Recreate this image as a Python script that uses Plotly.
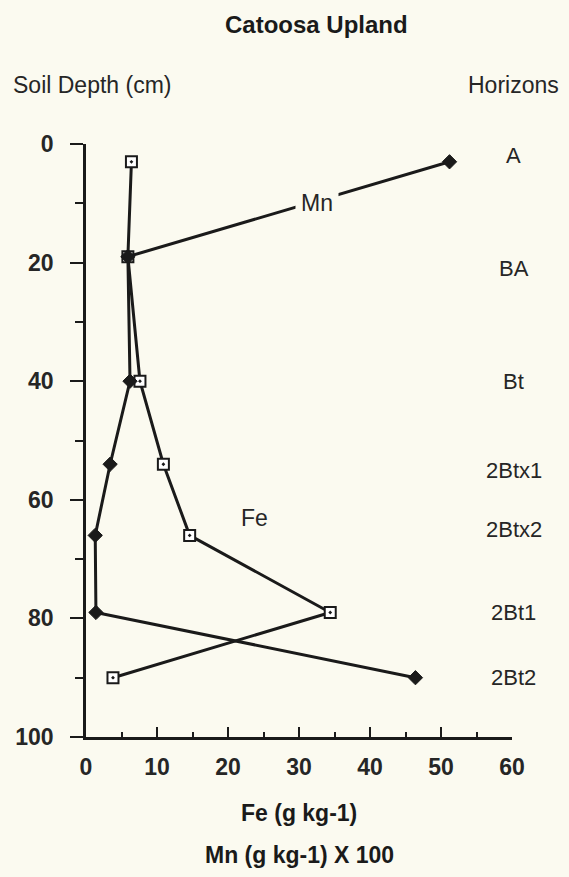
import plotly.graph_objects as go

# Sampled depths (cm) and concentrations
depth = [3, 19, 40, 54, 66, 79, 90]
fe = [6.4, 5.9, 7.6, 10.9, 14.6, 34.4, 3.8]          # Fe (g kg-1)
mn = [51.2, 5.9, 6.2, 3.4, 1.3, 1.4, 46.4]           # Mn (g kg-1) x 100

# Horizon names and the depth each label sits at
horizons = ["A", "BA", "Bt", "2Btx1", "2Btx2", "2Bt1", "2Bt2"]
horizon_depth = [2, 21, 40, 55, 65, 79, 90]

x_ticks = [0, 10, 20, 30, 40, 50, 60]
y_ticks = [0, 20, 40, 60, 80, 100]

BG = "#fbfaf0"
INK = "#1a1a1a"
TEXT = "#262626"
FONT = "Liberation Sans, Arial, Helvetica, sans-serif"

fig = go.Figure()

fig.add_trace(go.Scatter(
    x=fe, y=depth, mode="lines+markers", name="Fe",
    line=dict(color=INK, width=3),
    marker=dict(symbol="square-dot", size=11, color="white",
                line=dict(color=INK, width=2)),
    showlegend=False,
))
fig.add_trace(go.Scatter(
    x=mn, y=depth, mode="lines+markers", name="Mn",
    line=dict(color=INK, width=3),
    marker=dict(symbol="diamond", size=11, color=INK,
                line=dict(color=INK, width=1)),
    showlegend=False,
))

annotations = []
# series labels placed on the plot
annotations.append(dict(x=32.5, y=10, xref="x", yref="y", text="Mn",
                        showarrow=False, bgcolor=BG, borderpad=5,
                        font=dict(size=23, color=TEXT, family=FONT)))
annotations.append(dict(x=23.7, y=63, xref="x", yref="y", text="Fe",
                        showarrow=False,
                        font=dict(size=23, color=TEXT, family=FONT)))
# horizon names on the right
for name, d in zip(horizons, horizon_depth):
    annotations.append(dict(x=1.004, y=d, xref="paper", yref="y", text=name,
                            showarrow=False, xanchor="center", yanchor="middle",
                            font=dict(size=22, color=TEXT, family=FONT)))
# headings
annotations += [
    dict(x=0.542, y=1.202, xref="paper", yref="paper", text="<b>Catoosa Upland</b>",
         showarrow=False, xanchor="center", yanchor="middle",
         font=dict(size=24, color=INK, family=FONT)),
    dict(x=-0.176, y=1.0995, xref="paper", yref="paper", text="Soil Depth (cm)",
         showarrow=False, xanchor="left", yanchor="middle",
         font=dict(size=23, color=TEXT, family=FONT)),
    dict(x=1.003, y=1.0995, xref="paper", yref="paper", text="Horizons",
         showarrow=False, xanchor="center", yanchor="middle",
         font=dict(size=23, color=TEXT, family=FONT)),
    dict(x=0.5, y=-0.128, xref="paper", yref="paper", text="<b>Fe (g kg-1)</b>",
         showarrow=False, xanchor="center", yanchor="middle",
         font=dict(size=23, color=INK, family=FONT)),
    dict(x=0.5, y=-0.199, xref="paper", yref="paper", text="<b>Mn (g kg-1) X 100</b>",
         showarrow=False, xanchor="center", yanchor="middle",
         font=dict(size=23, color=INK, family=FONT)),
]

fig.update_layout(
    width=569, height=877,
    margin=dict(l=86, r=57, t=144, b=140),
    paper_bgcolor=BG, plot_bgcolor=BG,
    font=dict(family=FONT, color=INK, size=22),
    annotations=annotations,
    xaxis=dict(
        range=[0, 60], tickvals=x_ticks, ticktext=[str(v) for v in x_ticks],
        showgrid=False, zeroline=False, showline=True, linecolor=INK, linewidth=2.5,
        ticks="inside", ticklen=10, tickwidth=2, tickcolor=INK,
        minor=dict(ticks="inside", ticklen=5, tickwidth=2, tickcolor=INK, dtick=5),
        tickfont=dict(size=23, family=FONT, color=TEXT, weight="bold"),
        ticklabelstandoff=8,
    ),
    yaxis=dict(
        range=[100, 0], tickvals=y_ticks, ticktext=[str(v) for v in y_ticks],
        showgrid=False, zeroline=False, showline=True, linecolor=INK, linewidth=2.5,
        ticks="outside", ticklen=13, tickwidth=2, tickcolor=INK,
        minor=dict(ticks="outside", ticklen=8, tickwidth=2, tickcolor=INK, dtick=10),
        tickfont=dict(size=23, family=FONT, color=TEXT, weight="bold"),
        ticklabelstandoff=12,
    ),
)

fig.write_html("out.html")
